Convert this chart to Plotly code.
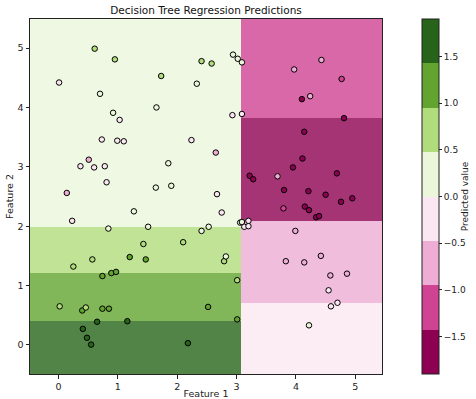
import numpy as np
import plotly.graph_objects as go

# Sample points: feature 1, feature 2 and target value
feature_1 = [0.61, 0.95, 0.01, 0.70, 0.92, 1.03, 0.73, 0.99, 1.10, 0.51,
             0.37, 0.60, 0.78, 0.81, 0.14, 1.65, 1.73, 2.33, 2.41, 2.58,
             2.94, 3.02, 3.09, 2.24, 1.85, 1.64, 1.90, 2.65, 2.67, 2.93,
             3.09, 0.23, 1.27, 2.75, 3.06, 0.84, 1.51, 0.25, 0.57, 1.20,
             1.43, 1.47, 2.10, 2.41, 2.53, 2.79, 2.82, 0.74, 0.89, 0.97,
             0.02, 0.40, 0.46, 0.74, 0.85, 2.52, 3.01, 0.65, 1.16, 0.41,
             0.48, 0.55, 2.18, 3.01, 3.09, 3.13, 3.20, 3.20, 3.79, 4.15,
             4.22, 4.34, 4.39, 3.80, 4.21, 4.50, 4.76, 4.95, 3.99, 3.83,
             4.14, 4.42, 4.58, 4.86, 4.55, 4.59, 4.70, 4.22, 4.43, 3.97,
             4.77, 4.10, 4.24, 4.81, 4.14, 4.11, 3.95, 4.69, 3.22, 3.28,
             3.69]
feature_2 = [4.99, 4.81, 4.42, 4.23, 3.91, 3.79, 3.46, 3.44, 3.43, 3.12,
             3.01, 2.99, 3.01, 2.74, 2.56, 4.00, 4.53, 4.40, 4.78, 4.74,
             4.89, 4.82, 4.76, 3.45, 3.06, 2.65, 2.68, 3.24, 2.54, 3.87,
             3.89, 2.09, 2.25, 2.23, 2.06, 1.96, 1.99, 1.32, 1.44, 1.48,
             1.70, 1.44, 1.73, 1.92, 1.99, 1.41, 1.49, 1.16, 1.21, 1.23,
             0.65, 0.58, 0.63, 0.61, 0.61, 0.64, 1.09, 0.39, 0.40, 0.27,
             0.12, 0.005, 0.03, 0.43, 2.07, 1.99, 2.09, 2.00, 2.30, 2.33,
             2.27, 2.15, 2.17, 2.61, 2.59, 2.53, 2.41, 2.47, 1.92, 1.41,
             1.39, 1.50, 1.17, 1.20, 0.92, 0.65, 0.71, 0.33, 4.80, 4.64,
             4.48, 4.14, 4.19, 3.82, 3.59, 3.14, 2.99, 2.89, 2.85, 2.79,
             2.84]
target = [0.71, 0.71, -0.24, 0.24, 0.24, -0.24, -0.24, -0.24, -0.24, -0.71,
          -0.24, -0.24, -0.24, -0.24, -0.71, 0.24, 0.71, 0.24, 0.71, 0.71,
          0.24, 0.24, 0.24, -0.24, 0.24, 0.24, 0.24, -0.71, -0.24, -0.24,
          -0.24, -0.24, 0.24, -0.24, 0.24, 0.24, 0.24, 0.71, 0.71, 1.19,
          0.71, 1.19, 0.71, 0.24, 0.24, 0.71, 0.24, 1.19, 1.19, 1.19,
          0.71, 1.19, 0.71, 1.19, 1.19, 1.19, 0.71, 1.66, 1.66, 1.66,
          1.66, 1.66, 1.66, 1.19, 0.24, -0.24, -0.24, -0.24, -1.19, -1.66,
          -1.66, -1.66, -1.66, -1.66, -1.66, -1.66, -1.66, -1.66, -0.71, -0.71,
          -0.71, -0.71, -0.71, -0.71, -0.24, -0.24, -0.24, 0.24, -0.71, -0.71,
          -1.19, -1.66, -0.71, -1.66, -1.66, -1.66, -1.66, -1.66, -1.66, -1.66,
          -0.71]

# Fitted tree: root split on feature 1, then splits on feature 2 per side
root_split = 3.08
left_splits = [0.40, 1.21, 1.98]
left_leaves = [1.62, 1.15, 0.70, 0.20]
right_splits = [0.71, 2.08, 3.815]
right_leaves = [-0.25, -0.72, -1.62, -1.15]

x_range = [-0.48, 5.45]
y_range = [-0.49, 5.49]
vmin, vmax = -1.9, 1.9

# PiYG sampled into 8 discrete levels
piyg8 = [(142, 1, 82), (208, 66, 146), (238, 173, 212), (251, 231, 241),
         (235, 246, 219), (176, 220, 124), (98, 164, 47), (39, 100, 25)]


def discrete_scale(colors, alpha=1.0):
    n = len(colors)
    scale = []
    for i, (r, g, b) in enumerate(colors):
        r = r * alpha + 255 * (1 - alpha)
        g = g * alpha + 255 * (1 - alpha)
        b = b * alpha + 255 * (1 - alpha)
        c = f"rgb({r:.0f},{g:.0f},{b:.0f})"
        scale.append([i / n, c])
        scale.append([(i + 1) / n, c])
    return scale


# Prediction grid built from the tree's split points
x_edges = [x_range[0], root_split, x_range[1]]
y_edges = sorted([y_range[0], y_range[1]] + left_splits + right_splits)
y_mid = [(a + b) / 2 for a, b in zip(y_edges[:-1], y_edges[1:])]
z = []
for ym in y_mid:
    left_val = left_leaves[int(np.searchsorted(left_splits, ym))]
    right_val = right_leaves[int(np.searchsorted(right_splits, ym))]
    z.append([left_val, right_val])

fig = go.Figure()
fig.add_trace(go.Heatmap(
    x=x_edges, y=y_edges, z=z,
    zmin=vmin, zmax=vmax,
    colorscale=discrete_scale(piyg8, alpha=0.8),
    showscale=False, hoverinfo="skip",
))
fig.add_trace(go.Scatter(
    x=feature_1, y=feature_2, mode="markers",
    marker=dict(
        size=5.5, color=target, cmin=vmin, cmax=vmax,
        colorscale=discrete_scale(piyg8),
        line=dict(color="black", width=1),
        showscale=True,
        colorbar=dict(
            x=(422 - 30) / 352, xanchor="left", xpad=0,
            y=0.5, yanchor="middle", ypad=0,
            len=1, lenmode="fraction", thickness=17,
            outlinewidth=1, outlinecolor="#222",
            tickvals=[-1.5, -1.0, -0.5, 0.0, 0.5, 1.0, 1.5],
            ticktext=["\u22121.5", "\u22121.0", "\u22120.5", "0.0", "0.5", "1.0", "1.5"],
            ticks="outside", ticklen=3, tickcolor="#222",
            tickfont=dict(size=9, color="#222"),
            title=dict(text="Predicted value", side="right",
                       font=dict(size=9, color="#222")),
        ),
    ),
    showlegend=False,
))

axis_common = dict(
    showgrid=False, zeroline=False, showline=True, mirror=True,
    linecolor="#222", linewidth=1, ticks="outside", ticklen=3.5,
    tickcolor="#222", tickfont=dict(size=9.5, color="#222"),
    automargin=False,
)
fig.update_layout(
    width=476, height=399,
    margin=dict(l=30, r=94, t=19, b=25, autoexpand=False),
    paper_bgcolor="white", plot_bgcolor="white",
    font=dict(family="DejaVu Sans", color="#222"),
    title=dict(text="Decision Tree Regression Predictions",
               x=(30 + 382) / 2 / 476, xanchor="center",
               y=1 - 10 / 399, yanchor="middle",
               font=dict(size=10.5, color="#111")),
    xaxis=dict(range=x_range, tickvals=[0, 1, 2, 3, 4, 5],
               title=dict(text="Feature 1", standoff=2, font=dict(size=9.5)),
               **axis_common),
    yaxis=dict(range=y_range, tickvals=[0, 1, 2, 3, 4, 5],
               title=dict(text="Feature 2", standoff=2, font=dict(size=9.5)),
               **axis_common),
)

fig.write_html("out.html")
